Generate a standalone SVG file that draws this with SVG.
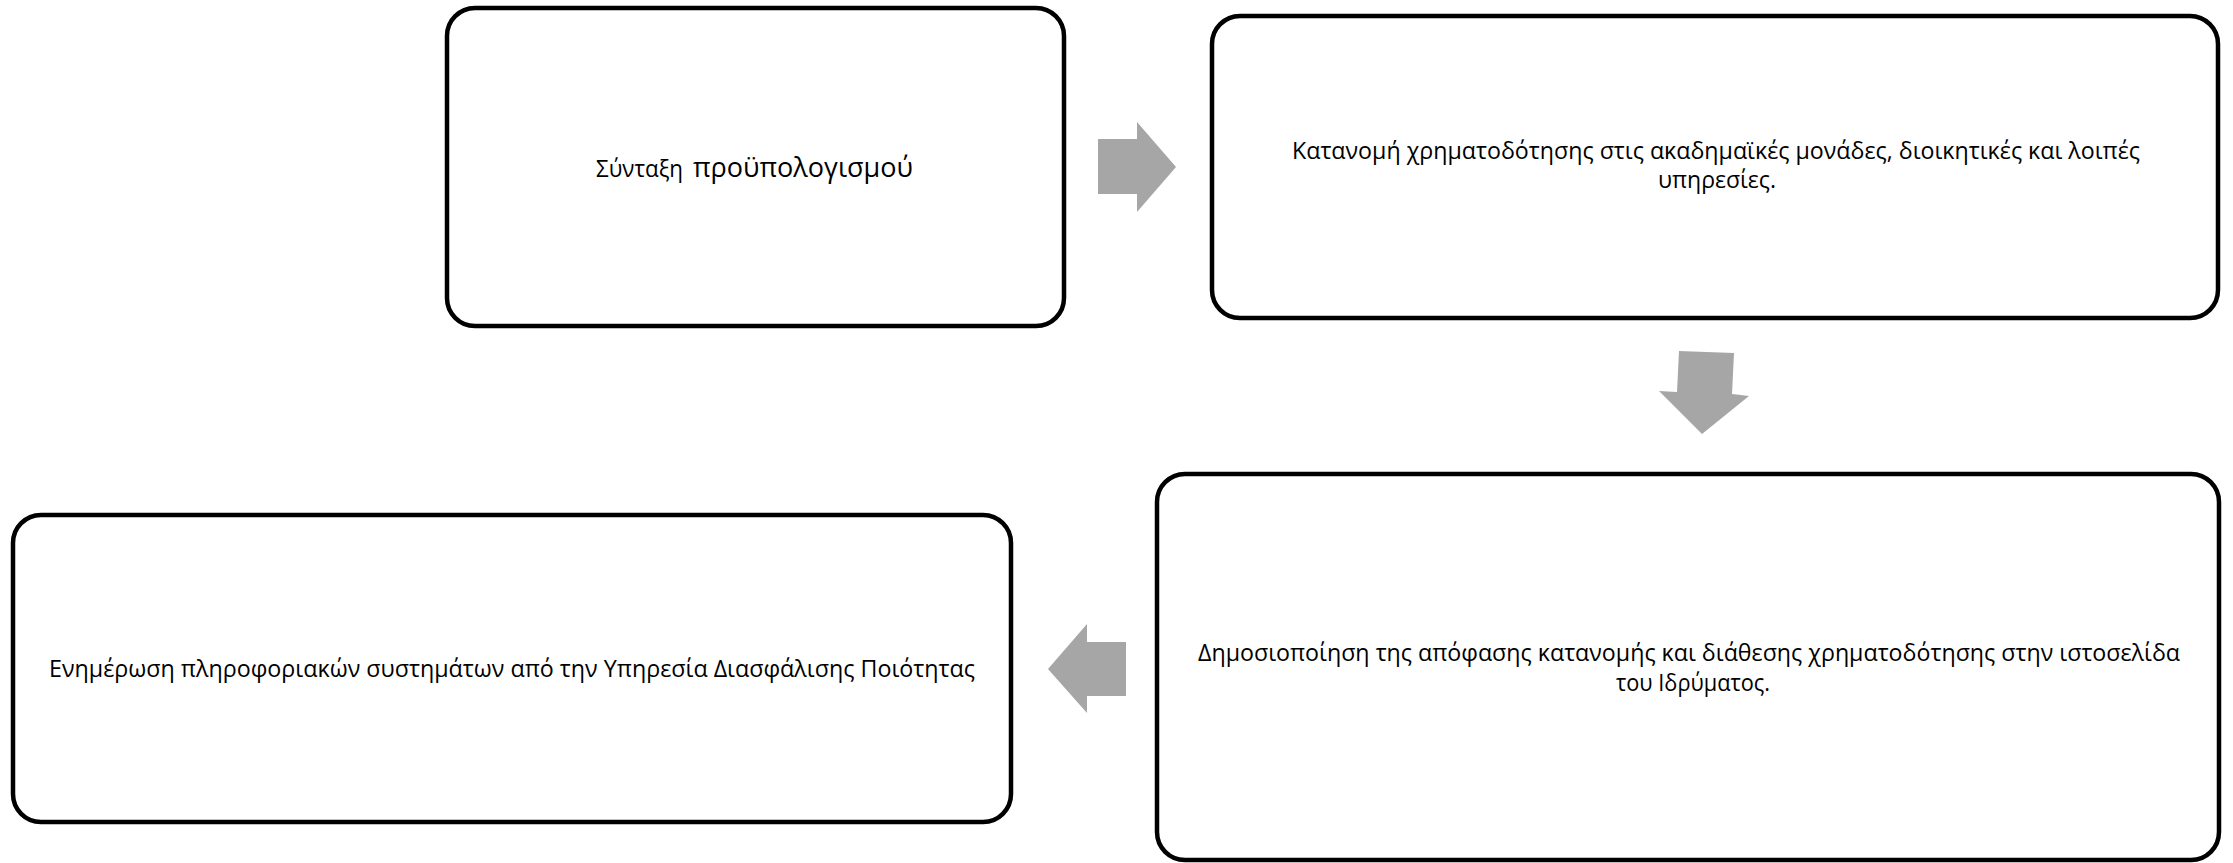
<svg xmlns="http://www.w3.org/2000/svg" width="2233" height="863" viewBox="0 0 2233 863">
<style>
.box{fill:#ffffff;stroke:#000000;stroke-width:4.5}
.t{font-family:"Open Sans","Noto Sans","DejaVu Sans",sans-serif;font-size:23px;fill:#000000}
.arr{fill:#a6a6a6;stroke:none}
</style>
<rect x="0" y="0" width="2233" height="863" fill="#ffffff"/>
<g id="connectors">
<polygon class="arr" points="1098,139 1137,139 1137,122 1176,167 1137,212 1137,194 1098,194"/>
<polygon class="arr" points="1679,351 1734,353 1732,394 1749,396 1702,434 1659,391 1677,392"/>
<polygon class="arr" points="1126,642 1087,642 1087,624 1048,669 1087,713 1087,696 1126,696"/>
</g>
<g id="node1">
<rect class="box" x="447" y="8" width="617" height="318" rx="28" ry="28"/>
<text class="t" x="596" y="177" textLength="87" lengthAdjust="spacingAndGlyphs">Σύνταξη</text>
<text class="t" x="693" y="177" style="font-size:28px" textLength="220" lengthAdjust="spacingAndGlyphs">προϋπολογισμού</text>
</g>
<g id="node2">
<rect class="box" x="1212" y="16" width="1006" height="302" rx="28" ry="28"/>
<text class="t" x="1292" y="159" textLength="848" lengthAdjust="spacingAndGlyphs">Κατανομή χρηματοδότησης στις ακαδημαϊκές μονάδες, διοικητικές και λοιπές</text>
<text class="t" x="1658" y="188" textLength="118" lengthAdjust="spacingAndGlyphs">υπηρεσίες.</text>
</g>
<g id="node3">
<rect class="box" x="1157" y="474" width="1062" height="386" rx="28" ry="28"/>
<text class="t" x="1198" y="661" textLength="982" lengthAdjust="spacingAndGlyphs">Δημοσιοποίηση της απόφασης κατανομής και διάθεσης χρηματοδότησης στην ιστοσελίδα</text>
<text class="t" x="1616" y="691" textLength="154" lengthAdjust="spacingAndGlyphs">του Ιδρύματος.</text>
</g>
<g id="node4">
<rect class="box" x="13" y="515" width="998" height="307" rx="28" ry="28"/>
<text class="t" x="49" y="677" textLength="926" lengthAdjust="spacingAndGlyphs">Ενημέρωση πληροφοριακών συστημάτων από την Υπηρεσία Διασφάλισης Ποιότητας</text>
</g>
</svg>
